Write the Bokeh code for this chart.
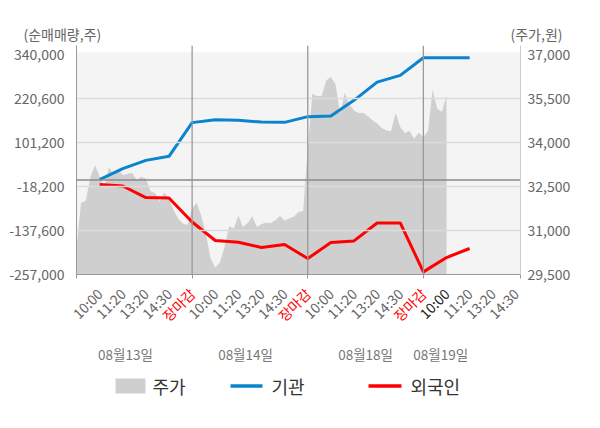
import math
import numpy as np
from bokeh.plotting import figure
from bokeh.layouts import column
from bokeh.models import (Range1d, LinearAxis, FixedTicker, NumeralTickFormatter, Span,
                          BoxAnnotation)
from bokeh.core.properties import value
from bokeh.embed import file_html
from bokeh.resources import INLINE

FONT = "Noto Sans CJK KR"

# ---------------- data ----------------
time_labels = ["10:00", "11:20", "13:20", "14:30", "장마감",
               "10:00", "11:20", "13:20", "14:30", "장마감",
               "10:00", "11:20", "13:20", "14:30", "장마감",
               "10:00", "11:20", "13:20", "14:30"]
day_labels = ["08월13일", "08월14일", "08월18일", "08월19일"]
series_names = ["주가", "기관", "외국인"]
left_ticks = [-257000, -137600, -18200, 101200, 220600, 340000]
right_ticks = [29500, 31000, 32500, 34000, 35500, 37000]

# net buying volume (shares) at each labelled time slot (slots 1..17)
inst = [800, 30600, 53000, 64000, 155500,
        163600, 161700, 157100, 156300, 171700,
        173400, 216000, 265600, 283800, 331900,
        331900, 331900]
foreign = [-12800, -16600, -48000, -49100, -114300,
           -164700, -169300, -183700, -175600, -213600,
           -170200, -165800, -117000, -117000, -249900,
           -210900, -186400]

# share price (won), sampled every 0.2 slot from slot 0
price = [30430, 31950, 32010, 32830, 33230, 32850, 32430, 33170, 32890, 33110,
         32890, 32940, 32960, 32740, 32830, 32780, 32340, 32270, 31990, 32300,
         32080, 31690, 31400, 31240, 31190, 31750, 31950, 31480, 30860, 30050,
         29740, 29910, 30440, 31150, 31070, 31510, 31120, 31260, 31490, 31120,
         31220, 31270, 31260, 31350, 31500, 31330, 31420, 31470, 31630, 31670,
         33800, 35670, 35580, 35600, 36120, 36240, 35990, 34990, 35700, 35300,
         35100, 35010, 35020, 34900, 34760, 34650, 34500, 34410, 34390, 35010,
         34530, 34330, 34400, 34140, 34340, 34190, 34400, 35800, 35160, 35050,
         35610]

flow_x = np.arange(1, len(inst) + 1)
price_x = np.arange(len(price)) * 0.2
tick_pos = list(range(1, len(time_labels) + 1))
day_bounds = [5, 10, 15]

# ---------------- layout constants ----------------
W = 584
ML, MR = 76, 64          # frame left / right borders
TOP_H = 45               # strip above the chart frame
FRAME_H = 229
MAIN_B = 9               # strip under the frame for the axis line / ticks
MAIN_H = FRAME_H + MAIN_B
BOT_H = 127              # strip for time labels, dates and legend
X_END = 19.2

L_BOT, L_TOP = -257000, 365000
R_BOT = 29500
R_TOP = R_BOT + (L_TOP - L_BOT) * (37000 - 29500) / (340000 - (-257000))
GREY = "#666666"
BLUE = "#0a84cc"
RED = "#ff0000"
AREA = "#cfcfcf"


def bare(height, x_range, y_range):
    f = figure(width=W, height=height, output_backend="svg", toolbar_location=None,
               x_range=x_range, y_range=y_range, x_axis_type=None, y_axis_type=None,
               min_border=0, frame_align=False)
    f.outline_line_color = None
    f.background_fill_color = "white"
    f.border_fill_color = "white"
    return f


# ---------------- top strip (axis titles) ----------------
pt = bare(TOP_H, Range1d(0, W), Range1d(TOP_H, 0))
pt.text(x=[23], y=[33], text=["(순매매량,주)"], text_align="left", text_baseline="middle",
        text_font=value(FONT), text_font_size="14px", text_color=GREY)
pt.text(x=[562], y=[33], text=["(주가,원)"], text_align="right", text_baseline="middle",
        text_font=value(FONT), text_font_size="14px", text_color=GREY)

# ---------------- main chart ----------------
xr = Range1d(0, X_END)
p = figure(width=W, height=MAIN_H, output_backend="svg", toolbar_location=None,
           x_range=xr, y_range=Range1d(L_BOT, L_TOP),
           min_border_left=ML, min_border_right=MR, min_border_top=0,
           min_border_bottom=MAIN_B)
p.extra_y_ranges = {"price": Range1d(R_BOT, R_TOP)}
p.outline_line_color = None
p.background_fill_color = "white"
p.border_fill_color = "white"

p.add_layout(BoxAnnotation(top=347000, fill_color="#f4f4f4", fill_alpha=1,
                           line_color=None, level="image"))

area = p.varea(x=price_x, y1=R_BOT, y2=price, y_range_name="price",
               fill_color=AREA, level="underlay")

p.xgrid.visible = False
p.ygrid.ticker = FixedTicker(ticks=left_ticks[1:-1])
p.ygrid.grid_line_color = "#dcdcdc"
p.ygrid.grid_line_width = 1.3
p.ygrid.level = "glyph"

p.add_layout(Span(location=0, dimension="width", line_color="#8a8a8a",
                  line_width=1.5, level="glyph"))
for d in day_bounds:
    p.add_layout(Span(location=d, dimension="height", line_color="#999999",
                      line_width=1.3, level="glyph"))

blue = p.line(flow_x, inst, line_color=BLUE, line_width=3)
red = p.line(flow_x, foreign, line_color=RED, line_width=3)

ya = p.yaxis[0]
ya.ticker = FixedTicker(ticks=left_ticks)
ya.formatter = NumeralTickFormatter(format="0,0")
ya.major_tick_line_color = None
ya.minor_tick_line_color = None
ya.major_tick_out = 0
ya.axis_line_color = "#999999"
ya.major_label_standoff = 12
ya.major_label_text_font = FONT
ya.major_label_text_font_size = "14px"
ya.major_label_text_color = GREY

ra = LinearAxis(y_range_name="price", ticker=FixedTicker(ticks=right_ticks),
                formatter=NumeralTickFormatter(format="0,0"))
ra.major_tick_line_color = None
ra.minor_tick_line_color = None
ra.major_tick_out = 0
ra.axis_line_color = "#cccccc"
ra.major_label_standoff = 7
ra.major_label_text_font = FONT
ra.major_label_text_font_size = "14px"
ra.major_label_text_color = GREY
p.add_layout(ra, "right")

xa = p.xaxis[0]
xa.ticker = FixedTicker(ticks=[], minor_ticks=[0] + day_bounds + [X_END])
xa.major_tick_line_color = None
xa.major_tick_out = 0
xa.major_tick_in = 0
xa.minor_tick_line_color = "#999999"
xa.minor_tick_out = 4
xa.minor_tick_in = 0
xa.axis_line_color = "#999999"
xa.major_label_standoff = 0
xa.major_label_text_font_size = "0px"

# ---------------- bottom strip (time labels, dates, legend) ----------------
ppu = (W - ML - MR) / X_END
pb = bare(BOT_H, Range1d(-ML / ppu, X_END + MR / ppu), Range1d(BOT_H, 0))
pb.extra_x_ranges = {"px": Range1d(0, W)}

label_colors = []
for t, lab in zip(tick_pos, time_labels):
    if lab == "장마감":
        label_colors.append(RED)
    elif t == 16:
        label_colors.append("#222222")
    else:
        label_colors.append(GREY)
pb.text(x=tick_pos, y=[7.5] * len(tick_pos), text=time_labels, angle=math.pi / 4,
        text_align="right", text_baseline="middle", text_font=value(FONT),
        text_font_size="14px", text_color=label_colors)

pb.text(x=[2.12, 7.31, 12.5, 15.75], y=[70] * 4, text=day_labels,
        text_align="center", text_baseline="middle", text_font=value(FONT),
        text_font_size="13.5px", text_color="#777777")

# legend (drawn in pixel units of the strip)
LEG_Y = 102.5
pb.quad(left=[115], right=[145], top=[LEG_Y - 7.5], bottom=[LEG_Y + 7.5],
        fill_color=AREA, line_color=None, x_range_name="px")
pb.segment(x0=[230, 368], y0=[LEG_Y, LEG_Y], x1=[262, 401], y1=[LEG_Y, LEG_Y],
           line_color=[BLUE, RED], line_width=3.5, x_range_name="px")
pb.text(x=[152, 271, 410], y=[LEG_Y] * 3, text=series_names, text_align="left",
        text_baseline="middle", text_font=value(FONT), text_font_size="18px",
        text_color="#333333", x_range_name="px")

layout = column(pt, p, pb, spacing=0)
open("out.html", "w").write(file_html(layout, INLINE))
